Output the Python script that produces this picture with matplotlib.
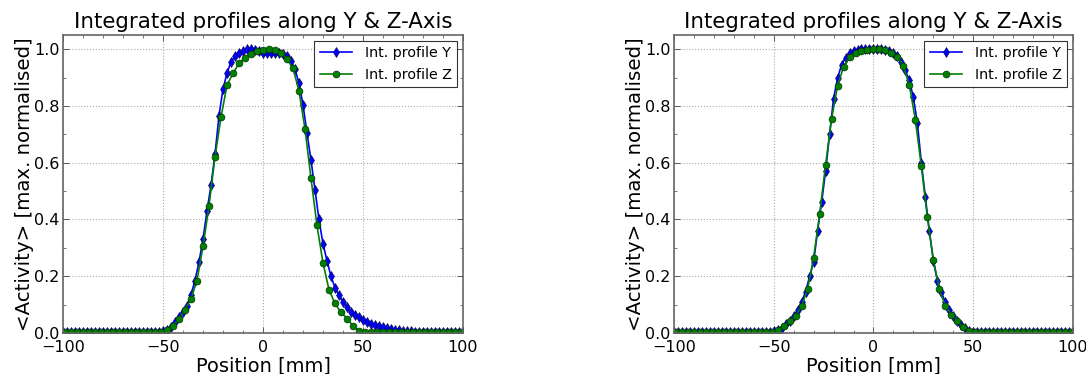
import numpy as np
import matplotlib
matplotlib.use("Agg")
import matplotlib.pyplot as plt
from matplotlib.ticker import MultipleLocator

# Sample positions [mm]
pos_y = list(range(-100, 101, 2))
pos_z = list(range(-99, 100, 3))

# Left measurement: integrated profile along Y (2 mm bins)
left_y = (
    [0.005] * 24 +                       # -100 .. -54
    [0.005, 0.006, 0.010, 0.020, 0.038, 0.055, 0.075, 0.095, 0.135, 0.185,   # -52 .. -34
     0.250, 0.330, 0.430, 0.520, 0.630, 0.765, 0.860, 0.915, 0.955, 0.975,   # -32 .. -14
     0.988, 0.995, 1.000, 1.000, 0.998, 0.993, 0.988, 0.987, 0.986, 0.985,   # -12 .. 6
     0.985, 0.983, 0.975, 0.957, 0.930, 0.880, 0.805, 0.705, 0.610, 0.505,   # 8 .. 26
     0.400, 0.315, 0.255, 0.200, 0.160, 0.133, 0.110, 0.090, 0.075, 0.064,   # 28 .. 46
     0.055, 0.047, 0.040, 0.033, 0.028, 0.024, 0.020, 0.016, 0.013, 0.011,   # 48 .. 66
     0.009, 0.008, 0.007, 0.006] +       # 68 .. 74
    [0.005] * 13                         # 76 .. 100
)

# Left measurement: integrated profile along Z (3 mm bins)
left_z = (
    [0.005] * 17 +                       # -99 .. -51
    [0.010, 0.025, 0.050, 0.080, 0.120, 0.185, 0.305, 0.447, 0.620, 0.760,   # -48 .. -21
     0.873, 0.915, 0.950, 0.970, 0.984, 0.994, 0.998, 0.999, 0.997, 0.988,   # -18 .. 9
     0.965, 0.933, 0.853, 0.720, 0.546, 0.379, 0.247, 0.153, 0.104, 0.073,   # 12 .. 39
     0.051, 0.026, 0.008] +              # 42 .. 48
    [0.005] * 17                         # 51 .. 99
)

# Right measurement: integrated profile along Y (2 mm bins)
right_y = (
    [0.005] * 25 +                       # -100 .. -52
    [0.006, 0.010, 0.018, 0.030, 0.044, 0.060, 0.080, 0.110, 0.145, 0.200,   # -50 .. -32
     0.250, 0.360, 0.460, 0.570, 0.700, 0.826, 0.898, 0.945, 0.970, 0.985,   # -30 .. -12
     0.993, 0.997, 0.999, 1.000, 1.000, 1.000, 1.000, 0.999, 0.997, 0.994,   # -10 .. 8
     0.987, 0.975, 0.955, 0.925, 0.890, 0.830, 0.740, 0.600, 0.480, 0.360,   # 10 .. 28
     0.255, 0.185, 0.145, 0.108, 0.080, 0.060, 0.042, 0.028, 0.016, 0.008] + # 30 .. 48
    [0.005] * 26                         # 50 .. 100
)

# Right measurement: integrated profile along Z (3 mm bins)
right_z = (
    [0.005] * 17 +                       # -99 .. -51
    [0.010, 0.024, 0.041, 0.061, 0.096, 0.155, 0.265, 0.418, 0.592, 0.755,   # -48 .. -21
     0.871, 0.938, 0.973, 0.988, 0.994, 0.998, 0.999, 0.999, 0.998, 0.988,   # -18 .. 9
     0.974, 0.941, 0.873, 0.751, 0.588, 0.409, 0.259, 0.155, 0.096, 0.065,   # 12 .. 39
     0.044, 0.021, 0.006] +              # 42 .. 48
    [0.005] * 17                         # 51 .. 99
)

title = "Integrated profiles along Y & Z-Axis"
xlabel = "Position [mm]"
ylabel = "<Activity> [max. normalised]"
label_y = "Int. profile Y"
label_z = "Int. profile Z"

plt.rcParams["font.family"] = ["DejaVu Sans"]

fig = plt.figure(figsize=(10.86, 3.74), dpi=100)
fig.patch.set_facecolor("white")

ax_left = fig.add_axes([0.058, 0.1096, 0.3683, 0.7968])
ax_right = fig.add_axes([0.6206, 0.1096, 0.3674, 0.7968])

for ax, py, pz in ((ax_left, left_y, left_z), (ax_right, right_y, right_z)):
    ax.plot(pos_y, py, color="#0000ff", lw=1.2, marker="d", markersize=5.5,
            markeredgecolor="#000033", markeredgewidth=0.4, label=label_y)
    ax.plot(pos_z, pz, color="#008000", lw=1.2, marker="o", markersize=5.0,
            markeredgecolor="#002200", markeredgewidth=0.4, label=label_z)

    ax.set_xlim(-100, 100)
    ax.set_ylim(0, 1.05)
    ax.xaxis.set_major_locator(MultipleLocator(50))
    ax.xaxis.set_minor_locator(MultipleLocator(10))
    ax.yaxis.set_major_locator(MultipleLocator(0.2))
    ax.yaxis.set_minor_locator(MultipleLocator(0.1))
    ax.tick_params(which="both", direction="in", top=True, right=True,
                   labelsize=11.5, color="#444444")
    ax.tick_params(axis="x", pad=5)
    ax.tick_params(axis="y", pad=2.5)
    ax.tick_params(which="major", length=4, width=0.6)
    ax.tick_params(which="minor", length=2, width=0.5)
    ax.grid(True, which="major", linestyle=":", color="#aaaaaa", linewidth=0.8)
    for sp in ax.spines.values():
        sp.set_color("#666666")
        sp.set_linewidth(1.2)

    ax.set_title(title, fontsize=15.4, pad=5)
    ax.set_xlabel(xlabel, fontsize=14, labelpad=1)
    ax.set_ylabel(ylabel, fontsize=14.2, labelpad=0)

    leg = ax.legend(loc="upper right", fontsize=10.3, numpoints=1, fancybox=False,
                    borderaxespad=0.4, handlelength=2.2, borderpad=0.4,
                    labelspacing=0.5, handletextpad=0.9)
    leg.get_frame().set_edgecolor("black")
    leg.get_frame().set_linewidth(0.8)

fig.savefig("out.png", dpi=100, facecolor="white")
